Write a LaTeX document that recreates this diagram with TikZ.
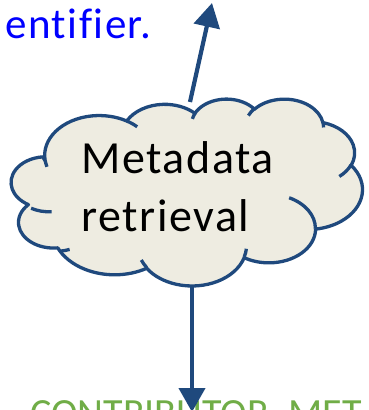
\documentclass[tikz,border=0pt]{standalone}
\usepackage{fontspec}
\setmainfont{Carlito}[Ligatures=NoCommon]
\usetikzlibrary{arrows.meta}
\definecolor{cloudfill}{RGB}{238,236,225}
\definecolor{navy}{RGB}{31,73,125}
\definecolor{txtblue}{RGB}{0,0,255}
\definecolor{txtgreen}{RGB}{112,173,71}
\begin{document}
\begin{tikzpicture}[x=1pt,y=-1pt,
  declare function={vp(\pa,\pr,\ps)=(\pa)+(atan2((\pr)*sin(\pa),(\ps)*cos(\pa))-(\pa))-360*round((atan2((\pr)*sin(\pa),(\ps)*cos(\pa))-(\pa))/360);},
  oa/.style n args={4}{x radius=#1cm,y radius=#2cm,start angle={vp(#3,#1,#2)},end angle={vp(#3+#4,#1,#2)}},
  cloudline/.style={draw=navy,line width=3.3pt,line join=round},
  arr/.style={draw=navy,line width=4.2pt,-{Triangle[length=24pt,width=26pt]}},
  bluetext/.style={font=\fontsize{43}{52}\selectfont\addfontfeature{LetterSpace=3.5},text=txtblue,inner sep=0pt},
  greentext/.style={font=\fontsize{40}{48}\selectfont,text=txtgreen,inner sep=0pt},
  cloudtext/.style={font=\fontsize{46}{58}\selectfont\addfontfeature{LetterSpace=3.5},text=black,inner sep=0pt,align=left}
]
\useasboundingbox (0,0) rectangle (368,410);
\clip (0,0) rectangle (368,410);

\node[bluetext,anchor=base west] (ident) at (5,38) {entifier.};
\node[greentext,anchor=base west] (contrib) at (30,426) {CONTRIBUTOR\_MET};

\begin{scope}[shift={(13.7,98.5)},x=1cm,y=1cm,xscale=0.028369,yscale=-0.0152]
\path[cloudline,fill=cloudfill] (39.00,143.70)
 arc[oa={67.53}{91.90}{-190.4875}{123.7805}]
 arc[oa={53.33}{72.67}{-144.1024}{89.9452}]
 arc[oa={43.65}{59.45}{-145.8079}{99.7230}]
 arc[oa={48.57}{65.95}{-130.9861}{117.2417}]
 arc[oa={53.33}{72.73}{-78.7089}{109.0269}]
 arc[oa={67.75}{92.20}{-46.2673}{130.2690}]
 arc[oa={57.85}{78.67}{0.6250}{114.0333}]
 arc[oa={67.52}{92.15}{22.4516}{115.1726}]
 arc[oa={77.20}{105.43}{66.2426}{82.2697}]
 arc[oa={43.60}{59.18}{-274.9421}{147.7244}]
 arc[oa={43.45}{59.45}{-246.8285}{152.5189}]
 -- cycle;
\draw[cloudline] (46.93,261.77) arc[oa={43.45}{59.45}{86.7420}{26.4295}]
 (69.28,348.99) arc[oa={43.60}{59.18}{73.6105}{11.4475}]
 (164.78,390.90) arc[oa={67.52}{92.15}{137.6242}{14.0811}]
 (288.27,347.51) arc[oa={67.52}{92.15}{6.4533}{15.9984}]
 (341.29,229.54) arc[oa={57.85}{78.67}{-70.2924}{70.9174}]
 (417.98,153.54) arc[oa={53.33}{72.73}{30.3180}{27.7515}]
 (383.24,54.26) arc[oa={48.57}{65.95}{-13.7443}{14.8589}]
 (290.78,39.52) arc[oa={48.57}{65.95}{-149.1815}{18.1954}]
 (221.41,47.20) arc[oa={43.65}{59.45}{-163.4943}{17.6864}]
 (140.00,51.92) arc[oa={67.53}{91.90}{-66.7070}{12.3194}]
 (41.27,157.89) arc[oa={67.53}{91.90}{157.6544}{11.8582}];
\end{scope}

\node[cloudtext,anchor=base west] (meta) at (81,231) {Metadata\\retrieval};

\coordinate (ctop) at (190,102);
\coordinate (uptip) at (212,3);
\coordinate (cbot) at (192,286);
\coordinate (downtip) at (192,412);
\draw[arr] (ctop) -- (uptip);
\draw[arr] (cbot) -- (downtip);
\end{tikzpicture}
\end{document}
